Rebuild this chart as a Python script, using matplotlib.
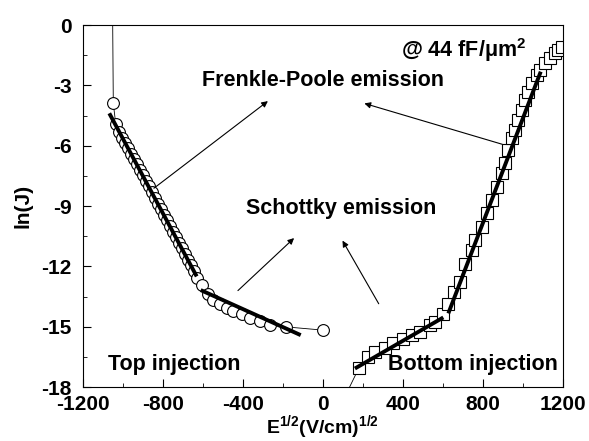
import matplotlib
matplotlib.use('Agg')
import matplotlib.pyplot as plt

plt.rcParams['font.family'] = ['Liberation Sans', 'DejaVu Sans']
plt.rcParams['font.weight'] = 'bold'
plt.rcParams['axes.unicode_minus'] = False
plt.rcParams['mathtext.fontset'] = 'custom'
plt.rcParams['mathtext.rm'] = 'Liberation Sans:bold'
plt.rcParams['mathtext.bf'] = 'Liberation Sans:bold'
plt.rcParams['mathtext.default'] = 'bf'

# top injection (circles), first point is where the thin line starts
top_x = [-1050, -1047, -1035, -1020, -1005, -990, -975, -960, -945, -930, -915, -900, -885,
         -870, -855, -840, -825, -810, -795, -780, -765, -750, -735, -720, -705, -690,
         -675, -660, -645, -630, -605, -572, -547, -514, -480, -447, -405, -364, -314,
         -264, -183, 0]
top_y = [0.0, -3.9, -4.9, -5.3, -5.6, -5.85, -6.1, -6.4, -6.65, -6.9, -7.2, -7.45, -7.75,
         -8.0, -8.3, -8.6, -8.9, -9.15, -9.45, -9.7, -10.0, -10.3, -10.55, -10.85, -11.1,
         -11.4, -11.7, -11.95, -12.25, -12.6, -12.94, -13.35, -13.65, -13.85, -14.05,
         -14.21, -14.38, -14.56, -14.71, -14.93, -15.01, -15.17]

# bottom injection (squares), first point is where the thin line starts
bot_x = [110, 181, 228, 261, 311, 353, 403, 445, 486, 536, 561, 603, 628, 655, 686, 711,
         745, 761, 795, 820, 845, 870, 895, 911, 928, 945, 961, 978, 995, 1011, 1028,
         1045, 1070, 1086, 1111, 1136, 1161, 1178, 1195]
bot_y = [-18.5, -17.05, -16.5, -16.25, -16.04, -15.8, -15.59, -15.42, -15.26, -14.93,
         -14.76, -14.35, -13.85, -13.3, -12.77, -11.9, -11.19, -10.7, -10.03, -9.37,
         -8.71, -8.04, -7.38, -6.88, -6.22, -5.64, -5.22, -4.73, -4.23, -3.73, -3.32,
         -2.9, -2.49, -2.24, -1.91, -1.66, -1.41, -1.24, -1.1]

# linear fits (end points)
fits = [([-1067, -630], [-4.39, -12.5]),
        ([-610, -110], [-13.18, -15.42]),
        ([161, 603], [-17.08, -14.54]),
        ([628, 1090], [-14.34, -2.32])]

fig = plt.figure(figsize=(5.89, 4.41), dpi=100)
ax = fig.add_axes([0.1404, 0.1224, 0.815, 0.8209])

ax.plot(top_x, top_y, '-', color='black', lw=0.6, marker='o', ms=8.5,
        mfc='white', mec='black', mew=0.8, markevery=list(range(1, len(top_x))))
ax.plot(bot_x, bot_y, '-', color='black', lw=0.6, marker='s', ms=8,
        mfc='white', mec='black', mew=0.8, markevery=list(range(1, len(bot_x))))

for fx, fy in fits:
    ax.plot(fx, fy, '-', color='black', lw=2.8, solid_capstyle='butt')

arr = dict(arrowstyle='-|>', color='black', lw=0.8, mutation_scale=9)
ax.annotate('', xy=(-263, -3.7), xytext=(-855, -8.2), arrowprops=arr)
ax.annotate('', xy=(195, -3.86), xytext=(911, -5.97), arrowprops=arr)
ax.annotate('', xy=(-133, -10.5), xytext=(-434, -13.3), arrowprops=arr)
ax.annotate('', xy=(92, -10.6), xytext=(287, -13.98), arrowprops=arr)

fs = 15.5
ax.text(0, -2.74, 'Frenkle-Poole emission', ha='center', va='center', fontsize=fs, fontweight='bold')
ax.text(90, -9.1, 'Schottky emission', ha='center', va='center', fontsize=fs, fontweight='bold')
ax.text(390, -1.25, r'@ 44 fF/μm$^{2}$', ha='left', va='center', fontsize=fs, fontweight='bold')
ax.text(-1074, -16.9, 'Top injection', ha='left', va='center', fontsize=fs, fontweight='bold')
ax.text(325, -16.9, 'Bottom injection', ha='left', va='center', fontsize=fs, fontweight='bold')

ax.set_xlim(-1200, 1200)
ax.set_ylim(-18, 0)
ax.set_xticks([-1200, -800, -400, 0, 400, 800, 1200])
ax.set_xticks([-1000, -600, -200, 200, 600, 1000], minor=True)
ax.set_yticks([0, -3, -6, -9, -12, -15, -18])
ax.set_yticks([-1.5, -4.5, -7.5, -10.5, -13.5, -16.5], minor=True)
ax.tick_params(which='both', direction='in', top=False, right=False, labelsize=15)
ax.tick_params(which='major', length=6)
ax.tick_params(axis='x', which='major', pad=6)
ax.tick_params(axis='y', which='major', pad=8)
ax.tick_params(which='minor', length=3)
for lab in ax.get_xticklabels() + ax.get_yticklabels():
    lab.set_fontweight('bold')

ax.set_xlabel(r'E$^{1/2}$(V/cm)$^{1/2}$', fontsize=14, fontweight='bold', labelpad=-1)
ax.set_ylabel('ln(J)', fontsize=15, fontweight='bold', labelpad=6)

fig.savefig('out.png', dpi=100)
